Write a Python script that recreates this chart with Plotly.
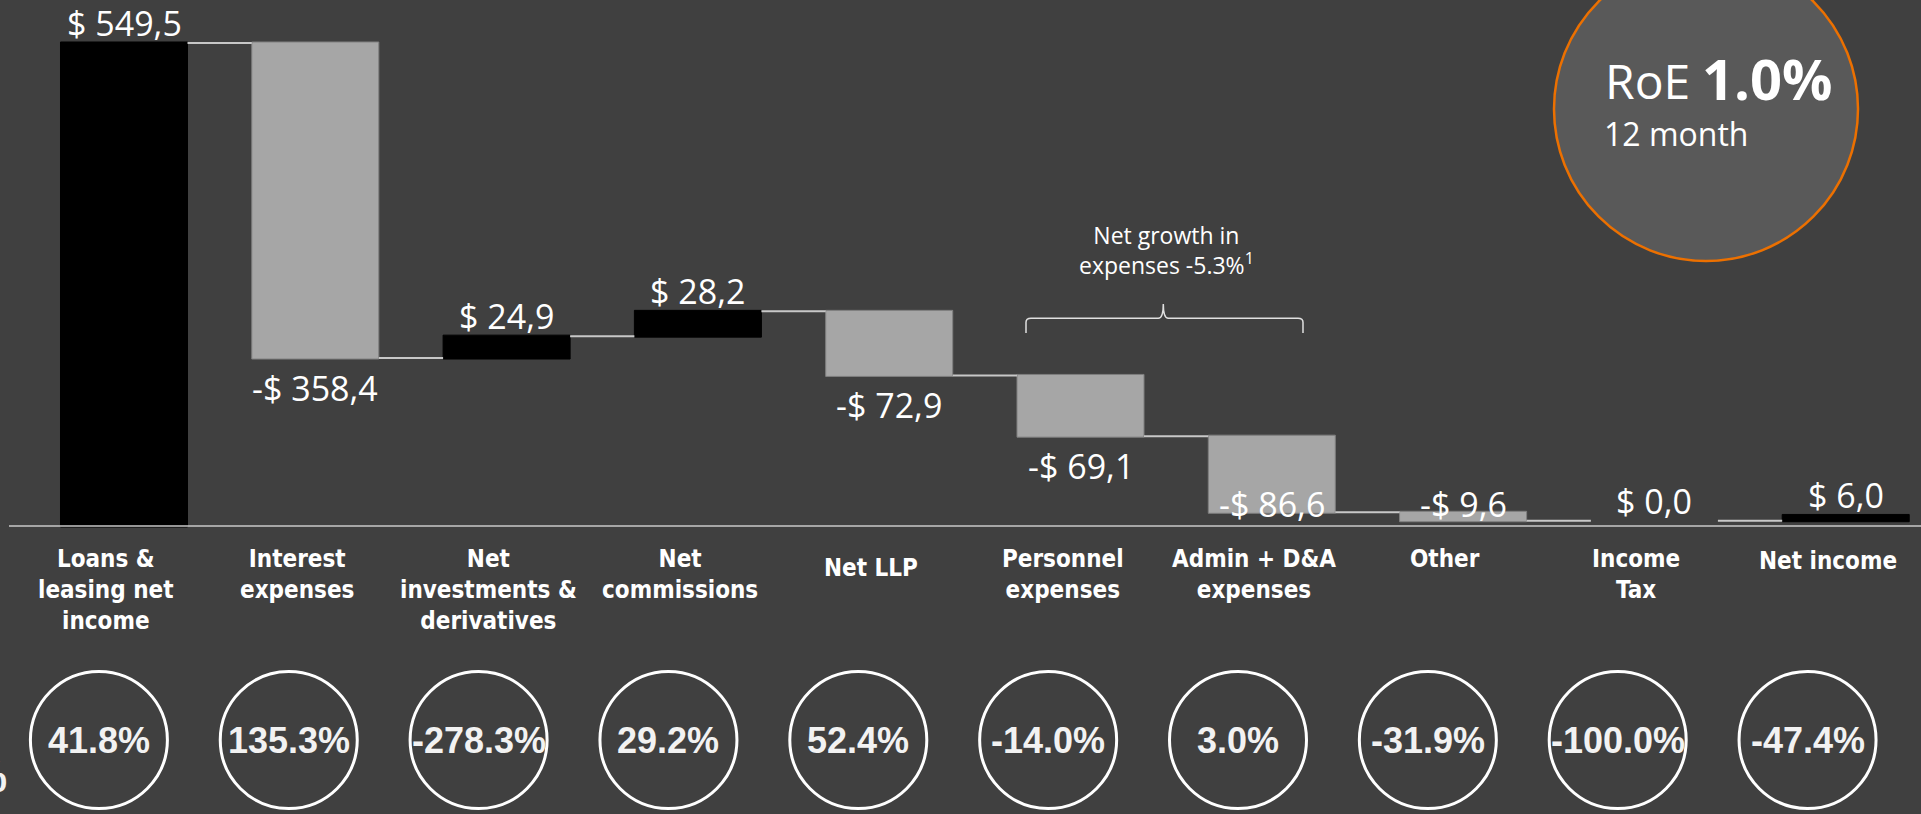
import plotly.graph_objects as go

# ---------------- data ----------------
categories = ["Loans &<br>leasing net<br>income", "Interest<br>expenses",
              "Net<br>investments &<br>derivatives", "Net<br>commissions", "Net LLP",
              "Personnel<br>expenses", "Admin + D&A<br>expenses", "Other",
              "Income<br>Tax", "Net income"]
values = [549.5, -358.4, 24.9, 28.2, -72.9, -69.1, -86.6, -9.6, 0.0, 6.0]
measures = ["absolute"] + ["relative"] * 9
yoy_growth = ["41.8%", "135.3%", "-278.3%", "29.2%", "52.4%",
              "-14.0%", "3.0%", "-31.9%", "-100.0%", "-47.4%"]
roe_value = "1.0%"
roe_period = "12 month"
expense_note = "Net growth in<br>expenses -5.3%<sup>1</sup>"

# ---------------- style / layout constants ----------------
W, H = 1921, 814
BG = "#404040"
GRAY = "#a6a6a6"
CONN = "#c8c8c8"
ORANGE = "#ec7000"
VAL_FONT = "Open Sans"

X0PX, XSTEP = 124.0, 191.3     # pixel centre of first category, pixel per category
Y0PX, YSCALE = 526.0, 0.879    # pixel of zero, pixel per unit

x_range = [-X0PX / XSTEP, (W - X0PX) / XSTEP]
y_range = [(Y0PX - H) / YSCALE, Y0PX / YSCALE]


def px_x(p):
    return p / W


def px_y(p):
    return 1 - p / H


def to_val(py):
    return (Y0PX - py) / YSCALE


def fmt(v):
    s = f"{abs(v):.1f}".replace(".", ",")
    return ("-$ " if v < 0 else "$ ") + s


xs = list(range(len(values)))

fig = go.Figure()
fig.add_trace(go.Waterfall(
    x=xs, y=values, measure=measures, width=0.664,
    increasing=dict(marker=dict(color="#000000", line=dict(color="#000000", width=1))),
    decreasing=dict(marker=dict(color=GRAY, line=dict(color="#7f7f7f", width=1))),
    totals=dict(marker=dict(color="#000000", line=dict(color="#000000", width=1))),
    connector=dict(mode="between", line=dict(color=CONN, width=2)),
    textinfo="none", hoverinfo="skip",
))

annotations = []
shapes = []

# value labels computed from running totals
running = 0.0
floor_val = to_val(504)
for i, (v, m) in enumerate(zip(values, measures)):
    if m == "absolute":
        base, end = 0.0, v
    else:
        base, end = running, running + v
    running = end
    if v >= 0:
        ly = max(base, end) + 20 / YSCALE
    else:
        ly = max(min(base, end) - 30 / YSCALE, floor_val)
    annotations.append(dict(x=i, y=ly, xref="x", yref="y", text=fmt(v), showarrow=False,
                            xanchor="center", yanchor="middle",
                            font=dict(family=VAL_FONT, size=34, color="white")))

# baseline
shapes.append(dict(type="line", xref="paper", yref="y", x0=px_x(9), x1=1, y0=0, y1=0,
                   line=dict(color=CONN, width=1.5)))

# category labels
LABEL_DX = -18 / XSTEP
label_dy = [0, 0, 0, 0, 9, 0, 0, 0, 0, 2]
for i, c in enumerate(categories):
    annotations.append(dict(x=i + LABEL_DX, y=px_y(543 + label_dy[i]), xref="x", yref="paper",
                            text=c, showarrow=False, xanchor="center", yanchor="top",
                            align="center",
                            font=dict(family="DejaVu Sans Condensed", size=24, color="white",
                                      weight="bold")))

# growth circles
CX0, CSTEP, CY, R = 98.9, 189.85, 740.0, 68.5
for i, g in enumerate(yoy_growth):
    cx = CX0 + CSTEP * i
    shapes.append(dict(type="circle", xref="paper", yref="paper",
                       x0=px_x(cx - R), x1=px_x(cx + R), y0=px_y(CY + R), y1=px_y(CY - R),
                       line=dict(color="white", width=3), fillcolor="rgba(0,0,0,0)"))
    annotations.append(dict(x=px_x(cx), y=px_y(CY), xref="paper", yref="paper", text=g,
                            showarrow=False, xanchor="center", yanchor="middle",
                            font=dict(family="Liberation Sans", size=36, color="#f2f2f2",
                                      weight="bold")))

# partial % at the far left edge (cut off, as in the original slide)
annotations.append(dict(x=px_x(9), y=px_y(776), xref="paper", yref="paper", text="%",
                        showarrow=False, xanchor="right", yanchor="middle",
                        font=dict(family="Liberation Sans", size=44, color="#f2f2f2",
                                  weight="bold")))

# expense bracket
bx0, bx1, bxm = 1026.0, 1303.0, 1163.3
by_end, by_bar, by_tip = 333.0, 318.3, 304.0


def P(x, y):
    return f"{px_x(x):.5f},{px_y(y):.5f}"


path = (f"M {P(bx0, by_end)} L {P(bx0, by_bar + 4)} Q {P(bx0, by_bar)} {P(bx0 + 5, by_bar)} "
        f"L {P(bxm - 5, by_bar)} Q {P(bxm, by_bar)} {P(bxm, by_tip)} "
        f"Q {P(bxm, by_bar)} {P(bxm + 5, by_bar)} L {P(bx1 - 5, by_bar)} "
        f"Q {P(bx1, by_bar)} {P(bx1, by_bar + 4)} L {P(bx1, by_end)}")
shapes.append(dict(type="path", xref="paper", yref="paper", path=path,
                   line=dict(color="#e0e0e0", width=1.5)))
annotations.append(dict(x=px_x(1166), y=px_y(250), xref="paper", yref="paper",
                        text=expense_note, showarrow=False, xanchor="center", yanchor="middle",
                        align="center", font=dict(family=VAL_FONT, size=23, color="white")))

# RoE bubble
RCX, RCY, RR = 1706.0, 109.0, 152.0
shapes.append(dict(type="circle", xref="paper", yref="paper",
                   x0=px_x(RCX - RR), x1=px_x(RCX + RR), y0=px_y(RCY + RR), y1=px_y(RCY - RR),
                   line=dict(color=ORANGE, width=2.5), fillcolor="#595959", layer="below"))
annotations.append(dict(x=px_x(1603), y=px_y(80), xref="paper", yref="paper", text="RoE",
                        showarrow=False, xanchor="left", yanchor="middle",
                        font=dict(family=VAL_FONT, size=48, color="white")))
annotations.append(dict(x=px_x(1700), y=px_y(78), xref="paper", yref="paper", text=roe_value,
                        showarrow=False, xanchor="left", yanchor="middle",
                        font=dict(family=VAL_FONT, size=56, color="white", weight="bold")))
annotations.append(dict(x=px_x(1602), y=px_y(134), xref="paper", yref="paper", text=roe_period,
                        showarrow=False, xanchor="left", yanchor="middle",
                        font=dict(family=VAL_FONT, size=32, color="white")))

fig.update_layout(
    width=W, height=H, margin=dict(l=0, r=0, t=0, b=0, pad=0),
    paper_bgcolor=BG, plot_bgcolor=BG, showlegend=False,
    xaxis=dict(range=x_range, visible=False, fixedrange=True),
    yaxis=dict(range=y_range, visible=False, fixedrange=True),
    shapes=shapes, annotations=annotations,
)

fig.write_html("out.html", post_script="document.body.style.margin='0';",
               config={"displayModeBar": False})
